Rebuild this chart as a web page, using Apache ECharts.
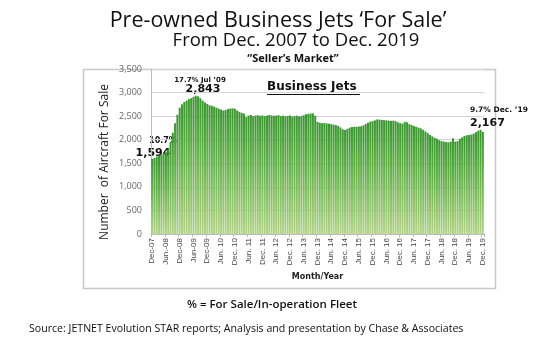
<!DOCTYPE html>
<html>
<head>
<meta charset="utf-8">
<script src="https://cdn.jsdelivr.net/npm/echarts@6/dist/echarts.min.js"></script>
<style>
html,body{margin:0;padding:0;background:#fff;}
#chart{width:550px;height:353px;}
</style>
</head>
<body>
<div id="chart"></div>
<script>
// 数据: Dec-07 .. Dec-19 (145 months)
var startYear = 2007, startMonth = 11; // Dec 2007
var monthNames = ['Jan','Feb','Mar','Apr','May','Jun','Jul','Aug','Sep','Oct','Nov','Dec'];

var jetsForSale = [
	1594,1610,1640,1660,1690,1710,1730,1800,1950,2150,2350,2530,
	2680,2750,2800,2830,2860,2880,2910,2935,2920,2880,2830,2790,
	2760,2730,2720,2700,2680,2660,2640,2620,2630,2650,2660,2665,
	2660,2620,2590,2570,2555,2480,2510,2525,2500,2510,2520,2505,
	2515,2500,2510,2525,2515,2505,2510,2520,2500,2510,2495,2505,
	2515,2490,2500,2510,2495,2500,2520,2540,2550,2555,2560,2510,
	2380,2360,2350,2355,2345,2340,2330,2320,2310,2290,2260,2220,
	2205,2230,2255,2270,2275,2275,2280,2285,2305,2330,2360,2385,
	2395,2410,2430,2425,2420,2415,2410,2405,2400,2405,2395,2370,
	2350,2340,2380,2370,2330,2310,2290,2275,2255,2240,2210,2175,
	2140,2100,2070,2040,2020,1990,1970,1960,1950,1945,1960,2030,
	1960,1970,2020,2050,2080,2095,2100,2110,2130,2160,2190,2210,
	2167
];

// x轴标签 (每6个月)
var tickLabels = [
	'Dec-07','Jun.-08','Dec-08','Jun-09','Dec-09','Jun. 10','Dec. 10',
	'Jun. 11','Dec. 11','Jun. 12','Dec. 12','Jun. 13','Dec. 13',
	'Jun. 14','Dec. 14','Jun. 15','Dec. 15','Jun. 16','Dec. 16',
	'Jun. 17','Dec. 17','Jun. 18','Dec. 18','Jun. 19','Dec. 19'
];

var yTicks = [0, 500, 1000, 1500, 2000, 2500, 3000, 3500];

var months = [];
for (var i = 0; i < jetsForSale.length; i++) {
	var m = (startMonth + i) % 12;
	var y = startYear + Math.floor((startMonth + i) / 12);
	months[i] = monthNames[m] + '-' + String(y).slice(2);
}

var myChart = echarts.init(document.getElementById('chart'));

var titleFont = '"Open Sans", "Noto Sans", sans-serif';
var boldFont = '"DejaVu Sans", Verdana, sans-serif';

var option = {
	animation: false,
	backgroundColor: '#fff',
	grid: {
		left: 151,
		right: 66,
		top: 69,
		bottom: 119
	},
	xAxis: {
		type: 'category',
		data: months,
		boundaryGap: true,
		axisLine: {show: true, lineStyle: {color: '#bbb', width: 1}},
		axisTick: {show: true, interval: 5, length: 3, lineStyle: {color: '#bbb'}},
		axisLabel: {
			interval: 5,
			rotate: 90,
			fontSize: 8,
			color: '#444',
			fontFamily: '"Liberation Sans Narrow", "Liberation Sans", Arial, sans-serif',
			margin: 4,
			formatter: function (v, idx) {
				return tickLabels[idx / 6] || '';
			}
		},
		name: 'Month/Year',
		nameLocation: 'middle',
		nameGap: 39,
		nameTextStyle: {
			fontSize: 8,
			fontWeight: 'bold',
			color: '#222',
			fontFamily: boldFont
		}
	},
	yAxis: {
		type: 'value',
		min: yTicks[0],
		max: yTicks[yTicks.length - 1],
		interval: 500,
		axisLine: {show: true, lineStyle: {color: '#bbb'}},
		axisTick: {show: false},
		splitLine: {show: true, lineStyle: {color: '#d4d4d4', width: 1}},
		axisLabel: {
			fontSize: 9,
			color: '#666',
			margin: 9,
			fontFamily: titleFont,
			formatter: function (v) {
				return v.toLocaleString('en-US');
			}
		}
	},
	series: [{
		name: 'Business Jets',
		type: 'bar',
		data: jetsForSale,
		barCategoryGap: '12%',
		itemStyle: {
			color: new echarts.graphic.LinearGradient(0, 0, 0, 1, [
				{offset: 0, color: '#3a9630'},
				{offset: 0.35, color: '#5cad45'},
				{offset: 1, color: '#b4d48a'}
			])
		}
	}],
	graphic: [
		// 外框
		{type: 'rect', left: 81, top: 67, shape: {width: 412, height: 219},
			style: {fill: 'none', stroke: '#c8c8c8', lineWidth: 1.5}, z: -1},
		// 标题
		{type: 'text', x: 278, y: 21, style: {text: 'Pre-owned Business Jets \u2018For Sale\u2019',
			font: '21.5px ' + titleFont, fill: '#111', textAlign: 'center', textVerticalAlign: 'middle'}},
		{type: 'text', x: 296, y: 41, style: {text: 'From Dec. 2007 to Dec. 2019',
			font: '18.5px ' + titleFont, fill: '#111', textAlign: 'center', textVerticalAlign: 'middle'}},
		{type: 'text', x: 293, y: 59, style: {text: '\u201CSeller\u2019s Market\u201D',
			font: 'bold 11px ' + titleFont, fill: '#111', textAlign: 'center', textVerticalAlign: 'middle'}},
		// y轴标题
		{type: 'text', x: 105, y: 162, rotation: Math.PI / 2, style: {text: 'Number  of Aircraft For Sale',
			font: '12px ' + titleFont, fill: '#222', textAlign: 'center', textVerticalAlign: 'middle'}},
		{type: 'text', x: 267, y: 87, style: {text: 'Business Jets',
			font: 'bold 12px ' + boldFont, fill: '#111', textAlign: 'left', textVerticalAlign: 'middle'}},
		{type: 'rect', left: 267, top: 94, shape: {width: 93, height: 1}, style: {fill: '#111'}},
		// 标注
		{type: 'text', x: 200, y: 80, style: {text: '17.7% Jul \u201909',
			font: 'bold 7px ' + boldFont, fill: '#111', textAlign: 'center', textVerticalAlign: 'middle'}},
		{type: 'text', x: 203, y: 89, style: {text: '2,843',
			font: 'bold 11px ' + boldFont, fill: '#111', textAlign: 'center', textVerticalAlign: 'middle'}},
		{type: 'text', x: 163, y: 141, style: {text: '10.7%',
			font: 'bold 8px ' + boldFont, fill: '#111', textAlign: 'center', textVerticalAlign: 'middle'}},
		{type: 'text', x: 153, y: 153, style: {text: '1,594',
			font: 'bold 11px ' + boldFont, fill: '#111', textAlign: 'center', textVerticalAlign: 'middle'}},
		{type: 'text', x: 470, y: 110, style: {text: '9.7% Dec. \u201919',
			font: 'bold 7.5px ' + boldFont, fill: '#111', textAlign: 'left', textVerticalAlign: 'middle'}},
		{type: 'text', x: 470, y: 123, style: {text: '2,167',
			font: 'bold 11px ' + boldFont, fill: '#111', textAlign: 'left', textVerticalAlign: 'middle'}},
		// 底部说明
		{type: 'text', x: 272, y: 305, style: {text: '% = For Sale/In-operation Fleet',
			font: '600 11.5px ' + titleFont, fill: '#111', textAlign: 'center', textVerticalAlign: 'middle'}},
		{type: 'text', x: 29, y: 329, style: {text: 'Source: JETNET Evolution STAR reports; Analysis and presentation by Chase & Associates',
			font: '10.6px ' + titleFont, fill: '#111', textAlign: 'left', textVerticalAlign: 'middle'}}
	]
};

myChart.setOption(option);
</script>
</body>
</html>
